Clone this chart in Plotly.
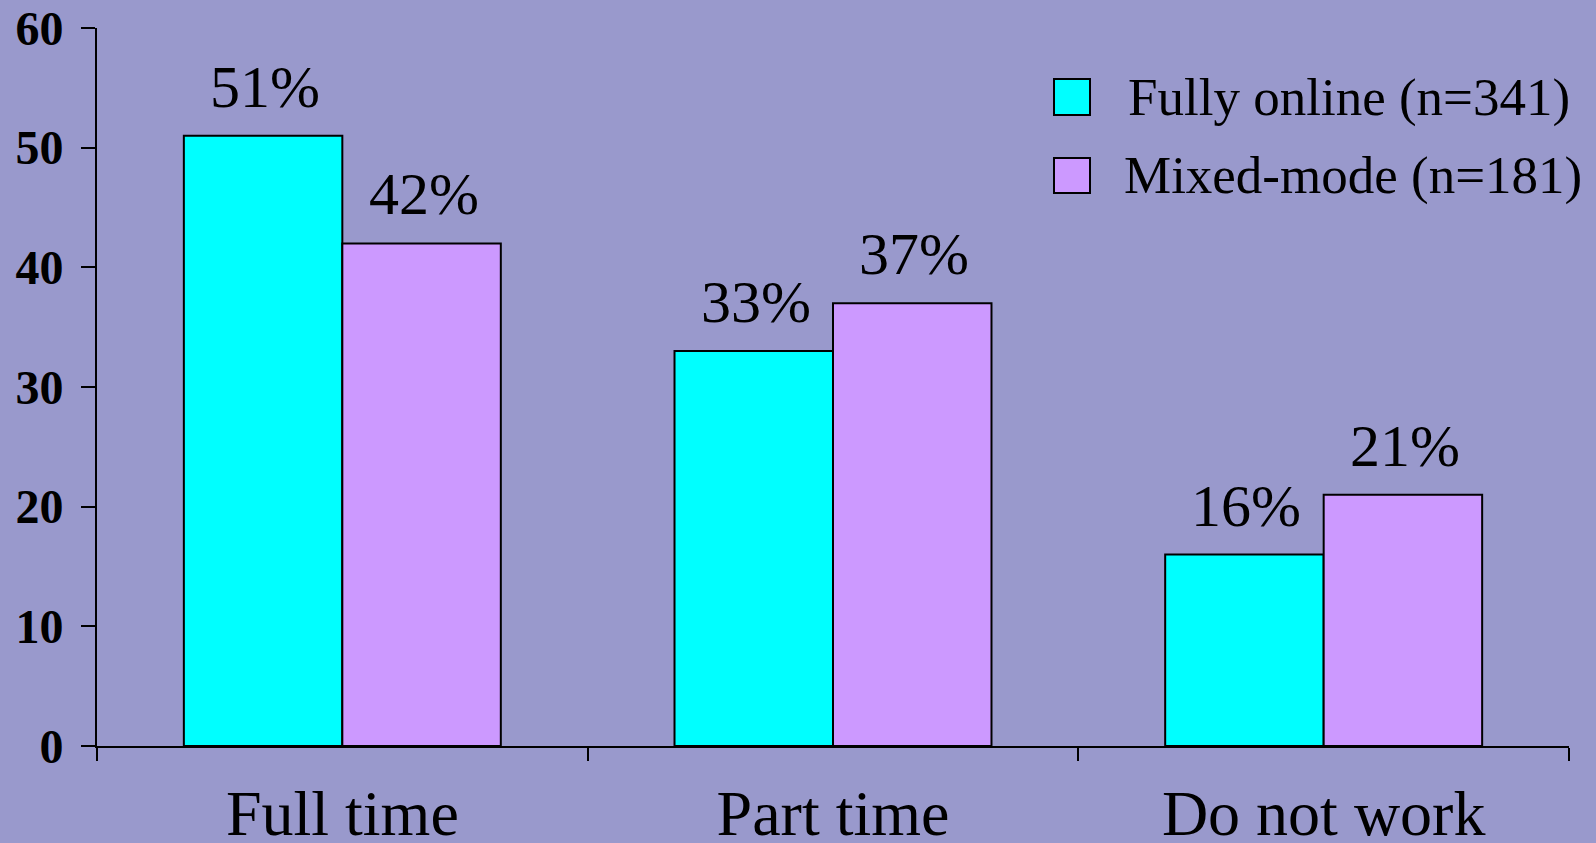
import plotly.graph_objects as go

categories = ["Full time", "Part time", "Do not work"]
series_names = ["Fully online (n=341)", "Mixed-mode (n=181)"]
fully_online = [51, 33, 16]
mixed_mode = [42, 37, 21]
y_ticks = [0, 10, 20, 30, 40, 50, 60]

BG = "#9999CC"
CYAN = "#00FFFF"
PURPLE = "#CC99FF"
SERIF = "Liberation Serif, Times New Roman, serif"

W, H = 1596, 843
L, R, T, B = 97, 27, 28, 97
PW, PH = W - L - R, H - T - B
BARGAP = 0.354

def px_x(px):
    return (px - L) / PW

def px_y(py):
    return (H - B - py) / PH

fig = go.Figure()
series = [(series_names[0], fully_online, CYAN), (series_names[1], mixed_mode, PURPLE)]
for name, vals, col in series:
    fig.add_trace(go.Bar(
        x=categories, y=vals, name=name,
        marker=dict(color=col, line=dict(color="black", width=2)),
        showlegend=False, hoverinfo="x+y+name",
    ))

# value labels above each bar
bw = (1 - BARGAP) / len(series)
for k, (name, vals, col) in enumerate(series):
    off = (k - (len(series) - 1) / 2) * bw
    for i, v in enumerate(vals):
        fig.add_annotation(x=i + off, y=v, xref="x", yref="y", text=f"{v}%",
                           showarrow=False, xanchor="center", yanchor="middle",
                           yshift=49, xshift=2,
                           font=dict(family=SERIF, size=60, color="black"))

# manual legend with large swatches
legend_items = [(series_names[0], CYAN, 79, 115, 97, 1126), (series_names[1], PURPLE, 158, 193, 175, 1122)]
for name, col, y0, y1, yc, tx in legend_items:
    fig.add_shape(type="rect", xref="paper", yref="paper",
                  x0=px_x(1054), x1=px_x(1090), y0=px_y(y1), y1=px_y(y0),
                  fillcolor=col, line=dict(color="black", width=2))
    fig.add_annotation(xref="paper", yref="paper", x=px_x(tx), y=px_y(yc),
                       text=name, showarrow=False, xanchor="left", yanchor="middle",
                       font=dict(family=SERIF, size=53, color="black"))

fig.update_layout(
    width=W, height=H,
    margin=dict(l=L, r=R, t=T, b=B, pad=0),
    paper_bgcolor=BG, plot_bgcolor=BG,
    barmode="group", bargap=BARGAP, bargroupgap=0,
    font=dict(family=SERIF, color="black"),
)
fig.update_xaxes(
    automargin=False,
    showline=True, linecolor="black", linewidth=2,
    ticks="outside", tickson="boundaries", ticklen=13, tickwidth=1.5, tickcolor="black",
    tickfont=dict(family=SERIF, size=64, color="black"),
    ticklabelstandoff=10,
    showgrid=False, zeroline=False,
)
fig.update_yaxes(
    automargin=False,
    range=[0, 60], tickvals=y_ticks,
    showline=True, linecolor="black", linewidth=2,
    ticks="outside", ticklen=14, tickwidth=1.5, tickcolor="black",
    tickfont=dict(family=SERIF, size=48, color="black", weight="bold"),
    ticklabelstandoff=8,
    showgrid=False, zeroline=False,
)

fig.write_html("out.html", config={"displayModeBar": False})
